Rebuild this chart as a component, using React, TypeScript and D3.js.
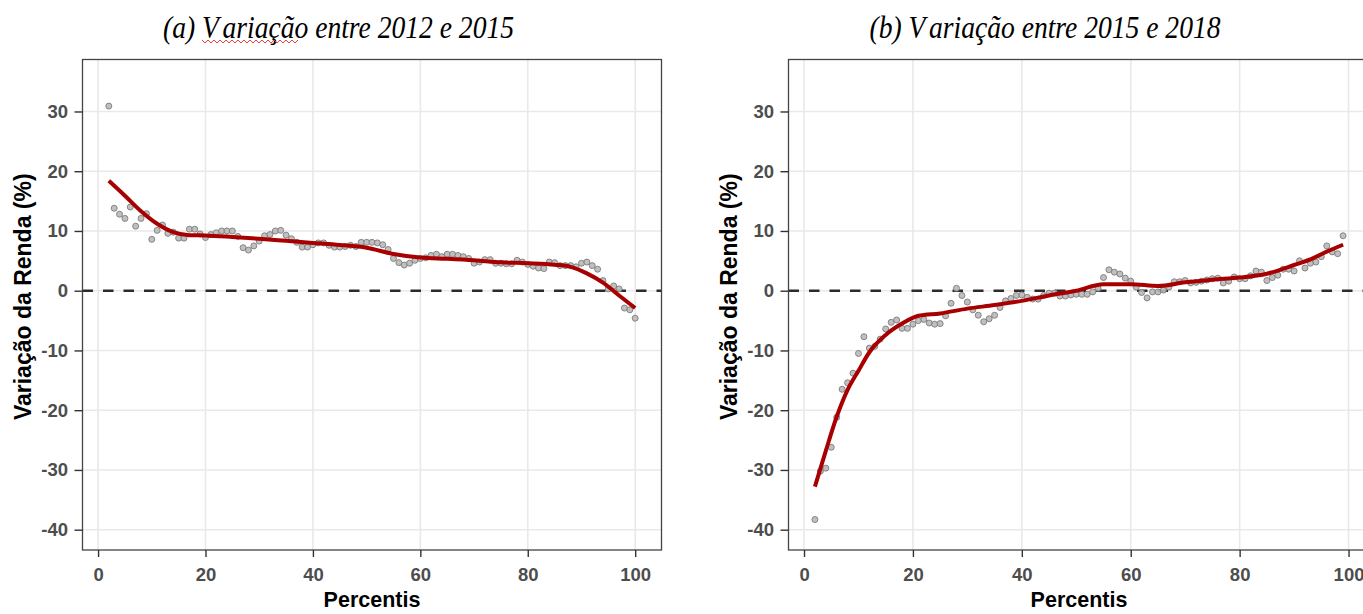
import React from "react";
import * as d3 from "d3";

// percentis observados em cada painel
const percentisA = d3.range(2, 101);
const percentisB = d3.range(2, 100);

// variação da renda (%) por percentil, 2012-2015
const rendaA = [
  30.9, 13.8, 12.8, 12.1, 14.0, 10.8, 12.1, 12.9, 8.6, 10.1,
  11.0, 9.6, 9.8, 8.8, 8.8, 10.3, 10.3, 9.5, 8.9, 9.4,
  9.7, 10.0, 10.0, 10.0, 9.1, 7.2, 6.8, 7.5, 8.3, 9.2,
  9.4, 10.0, 10.1, 9.3, 8.7, 8.1, 7.3, 7.3, 7.7, 8.0,
  8.0, 7.6, 7.3, 7.3, 7.4, 7.6, 7.4, 8.1, 8.1, 8.1,
  8.0, 7.7, 6.9, 5.4, 4.7, 4.3, 4.6, 5.1, 5.4, 5.5,
  5.9, 6.1, 5.7, 6.1, 6.1, 5.9, 5.7, 5.4, 4.6, 4.8,
  5.2, 5.2, 4.6, 4.6, 4.5, 4.5, 5.1, 4.8, 4.4, 4.1,
  3.8, 3.7, 4.8, 4.7, 4.2, 4.2, 4.2, 4.0, 4.6, 4.8,
  4.2, 3.6, 1.7, 0.3, 0.8, 0.3, -2.9, -3.2, -4.6
];

// variação da renda (%) por percentil, 2015-2018
const rendaB = [
  -38.3, -30.2, -29.7, -26.2, -21.2, -16.5, -15.4, -13.8, -10.5, -7.7,
  -9.6, -9.3, -8.1, -6.4, -5.3, -4.9, -6.3, -6.3, -5.6, -5.0,
  -4.8, -5.4, -5.6, -5.5, -4.2, -2.1, 0.4, -0.8, -1.9, -3.2,
  -4.1, -5.2, -4.7, -4.1, -2.8, -1.7, -1.3, -0.8, -0.7, -1.1,
  -1.4, -1.4, -0.8, -0.4, -0.4, -0.9, -0.9, -0.7, -0.6, -0.6,
  -0.6, -0.2, 0.4, 2.2, 3.5, 3.1, 2.8, 2.1, 1.6, 0.6,
  -0.3, -1.2, -0.2, -0.2, 0.1, 0.6, 1.5, 1.5, 1.7, 1.3,
  1.4, 1.6, 1.8, 2.0, 2.1, 1.3, 1.6, 2.3, 2.0, 2.0,
  2.5, 3.3, 3.1, 1.7, 2.2, 2.6, 3.6, 3.6, 3.3, 5.0,
  3.8, 4.6, 4.8, 5.7, 7.5, 6.5, 6.2, 9.2
];

// curva suavizada
const suaveAx = [2, 5, 8, 11, 14, 17, 20, 25, 30, 35, 40, 45, 50, 55, 60, 65, 70, 75, 80, 85, 88, 91, 94, 97, 100];
const suaveAy = [18.4, 15.9, 13.3, 11.2, 9.8, 9.3, 9.25, 9.0, 8.7, 8.35, 8.0, 7.65, 7.2, 6.15, 5.55, 5.35, 5.1, 4.75, 4.6, 4.35, 4.0, 2.9, 1.35, -0.8, -2.9];
const suaveBx = [2, 4, 6, 8, 10, 12, 15, 18, 21, 25, 30, 35, 40, 45, 50, 55, 60, 65, 70, 75, 80, 85, 90, 93, 96, 99];
const suaveBy = [-32.8, -26.8, -21.1, -16.6, -13.4, -10.3, -7.4, -5.5, -4.2, -3.8, -3.0, -2.4, -1.7, -0.8, 0.0, 1.1, 1.1, 0.8, 1.4, 1.85, 2.2, 2.85, 4.3, 5.25, 6.55, 7.7];

const yTicks = [-40, -30, -20, -10, 0, 10, 20, 30];
const xTicks = [0, 20, 40, 60, 80, 100];
const yDomain = [-43.4, 38.7];

const titulos = [
  ["(a) V", "ariação entre 2012 e 2015"],
  ["(b) V", "ariação entre 2015 e 2018"]
];
const tituloX = "Percentis";
const tituloY = "Variação da Renda (%)";

export default function App() {
  const width = 1363;
  const height = 614;
  const top = 59.5;
  const bottom = 550;

  const panels = [
    { left: 82.5, w: 579, titleX: 338.5, px: percentisA, py: rendaA, sx: suaveAx, sy: suaveAy, title: titulos[0] },
    { left: 788.5, w: 581, titleX: 1045, px: percentisB, py: rendaB, sx: suaveBx, sy: suaveBy, title: titulos[1] }
  ];

  const svgRef = React.useRef(null);

  React.useEffect(() => {
    const svg = d3.select(svgRef.current);
    svg.selectAll("*").remove();

    const scaleY = d3.scaleLinear().domain(yDomain).range([bottom, top]);
    const fmt = d => String(d);

    panels.forEach((p, i) => {
      const ext = d3.extent(p.px);
      const pad = (ext[1] - ext[0]) * 0.05;
      const scaleX = d3.scaleLinear()
        .domain([ext[0] - pad, ext[1] + pad])
        .range([p.left, p.left + p.w]);

      const g = svg.append("g");

      g.append("clipPath").attr("id", "clip" + i)
        .append("rect")
        .attr("x", p.left).attr("y", top)
        .attr("width", p.w).attr("height", bottom - top);

      const inner = g.append("g").attr("clip-path", `url(#clip${i})`);

      // grade principal
      inner.selectAll(".gy").data(yTicks).enter().append("line")
        .attr("x1", p.left).attr("x2", p.left + p.w)
        .attr("y1", d => scaleY(d)).attr("y2", d => scaleY(d))
        .style("stroke", "#e9e9e9").style("stroke-width", 1.6);
      inner.selectAll(".gx").data(xTicks).enter().append("line")
        .attr("y1", top).attr("y2", bottom)
        .attr("x1", d => scaleX(d)).attr("x2", d => scaleX(d))
        .style("stroke", "#e9e9e9").style("stroke-width", 1.6);

      // linha tracejada no zero
      inner.append("line")
        .attr("x1", p.left).attr("x2", p.left + p.w)
        .attr("y1", scaleY(0)).attr("y2", scaleY(0))
        .style("stroke", "#2b2b2b").style("stroke-width", 2.6)
        .style("stroke-dasharray", "10.5,10");

      // pontos
      inner.selectAll(".pt").data(p.px).enter().append("circle")
        .attr("cx", d => scaleX(d))
        .attr("cy", (d, j) => scaleY(p.py[j]))
        .attr("r", 3)
        .style("fill", "#b9b9b9")
        .style("fill-opacity", 0.9)
        .style("stroke", "#7c7c7c")
        .style("stroke-width", 0.9);

      // curva suavizada
      const line = d3.line()
        .x(d => scaleX(d[0]))
        .y(d => scaleY(d[1]))
        .curve(d3.curveMonotoneX);
      inner.append("path")
        .datum(p.sx.map((x, j) => [x, p.sy[j]]))
        .attr("d", line)
        .style("fill", "none")
        .style("stroke", "#a80000")
        .style("stroke-width", 4);

      // moldura
      g.append("rect")
        .attr("x", p.left).attr("y", top)
        .attr("width", p.w).attr("height", bottom - top)
        .style("fill", "none").style("stroke", "#444").style("stroke-width", 1.3);

      // eixos
      const axisY = g.append("g")
        .attr("transform", `translate(${p.left}, 0)`)
        .call(d3.axisLeft(scaleY).tickValues(yTicks).tickFormat(fmt).tickSize(8).tickPadding(6.5));
      const axisX = g.append("g")
        .attr("transform", `translate(0, ${bottom})`)
        .call(d3.axisBottom(scaleX).tickValues(xTicks).tickFormat(fmt).tickSize(7).tickPadding(11));

      [axisY, axisX].forEach(ax => {
        ax.select(".domain").remove();
        ax.selectAll("line").style("stroke", "#333").style("stroke-width", 1.4);
        ax.selectAll("text")
          .style("font-family", "'Liberation Sans', Arial, sans-serif")
          .style("font-weight", "bold")
          .style("font-size", "18.5px")
          .style("fill", "#4d4d4d");
      });

      // títulos dos eixos
      g.append("text")
        .attr("x", p.left + p.w / 2).attr("y", 607)
        .attr("text-anchor", "middle")
        .style("font-family", "'Liberation Sans', Arial, sans-serif")
        .style("font-weight", "bold")
        .style("font-size", "21.5px")
        .style("fill", "#000")
        .text(tituloX);

      g.append("text")
        .attr("transform", `translate(${p.left - 51.5}, ${(top + bottom) / 2 - 8}) rotate(-90)`)
        .attr("text-anchor", "middle")
        .style("font-family", "'Liberation Sans', Arial, sans-serif")
        .style("font-weight", "bold")
        .style("font-size", "23px")
        .style("fill", "#000")
        .text(tituloY);

      // título do painel
      const t = g.append("text")
        .attr("transform", `translate(${p.titleX}, 38) scale(0.89, 1)`)
        .attr("text-anchor", "middle")
        .style("font-family", "'Liberation Serif', 'Times New Roman', serif")
        .style("font-style", "italic")
        .style("font-size", "31px")
        .style("fill", "#000");
      t.append("tspan").text(p.title[0]);
      t.append("tspan").attr("dx", 4).text(p.title[1]);

      // sublinhado ondulado do corretor ortográfico
      if (i === 0) {
        const wave = d3.range(202, 301, 3).map((x, j) => [x, j % 2 === 0 ? 40 : 43]);
        g.append("path")
          .attr("d", d3.line()(wave))
          .style("fill", "none")
          .style("stroke", "#e03030")
          .style("stroke-width", 0.9);
      }
    });
  }, []);

  return (
    <svg ref={svgRef} width={width} height={height}
      style={{ position: "absolute", left: 0, top: 0, background: "#fff" }}></svg>
  );
}
